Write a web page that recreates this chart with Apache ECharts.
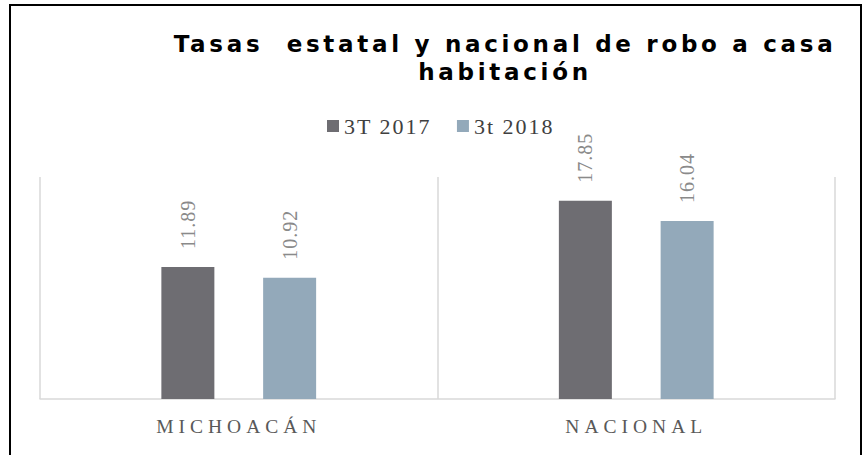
<!DOCTYPE html>
<html>
<head>
<meta charset="utf-8">
<script src="https://cdn.jsdelivr.net/npm/echarts@6/dist/echarts.min.js"></script>
<style>
  html, body { margin: 0; padding: 0; background: #fff; }
  #chart { width: 867px; height: 455px; }
  /* letter spacing like the original slide (svg renderer), picked by font size */
  #chart text { white-space: pre; }
  #chart text[style*="23px"] { letter-spacing: 3.7px; }
  #chart text[style*="19.5px"] { letter-spacing: 5px; }
  #chart text[style*="20px"] { letter-spacing: 1px; }
  #chart text[style*="22px"] { letter-spacing: 2px; }
</style>
</head>
<body>
<div id="chart"></div>
<script>
const categories = ["MICHOACÁN", "NACIONAL"];
const seriesNames = ["3T 2017", "3t 2018"];
const values2017 = [11.89, 17.85];
const values2018 = [10.92, 16.04];

const serifFont = "Liberation Serif, DejaVu Serif, serif";

const chart = echarts.init(document.getElementById("chart"), null, { renderer: "svg" });

const barLabel = {
  show: true,
  position: "top",
  rotate: 90,
  align: "left",
  verticalAlign: "middle",
  distance: 18,
  color: "#8a8a8a",
  fontFamily: serifFont,
  fontSize: 20,
  formatter: (p) => p.value.toFixed(2)
};

chart.setOption({
  animation: false,
  backgroundColor: "#fff",
  graphic: [
    {
      type: "rect",
      shape: { x: 10, y: 5, width: 851, height: 470 },
      style: { fill: "none", stroke: "#000", lineWidth: 2 },
      silent: true
    }
  ],
  title: {
    text: "Tasas  estatal y nacional de robo a casa\nhabitación",
    left: 505,
    top: 30,
    padding: 0,
    textAlign: "center",
    textStyle: {
      fontFamily: "DejaVu Sans",
      fontWeight: "bold",
      fontSize: 23,
      lineHeight: 28,
      color: "#000"
    }
  },
  legend: {
    data: seriesNames,
    top: 115,
    left: 327,
    padding: 0,
    itemWidth: 12,
    itemHeight: 12,
    itemGap: 39,
    icon: "rect",
    textStyle: { fontFamily: serifFont, fontSize: 22, color: "#404040" }
  },
  grid: { left: 40, right: 32, top: 177, bottom: 56 },
  xAxis: {
    type: "category",
    data: categories,
    axisLine: { lineStyle: { color: "#d9d9d9", width: 1.5 } },
    axisTick: { show: false },
    splitLine: { show: true, lineStyle: { color: "#d9d9d9", width: 1.5 } },
    axisLabel: {
      margin: 17,
      color: "#595959",
      fontFamily: serifFont,
      fontSize: 19.5
    }
  },
  yAxis: {
    type: "value",
    min: 0,
    max: 20,
    show: false,
    splitLine: { show: false }
  },
  series: [
    {
      name: seriesNames[0],
      type: "bar",
      data: values2017,
      barWidth: 53,
      barGap: "92%",
      itemStyle: { color: "#6e6d72" },
      label: barLabel
    },
    {
      name: seriesNames[1],
      type: "bar",
      data: values2018,
      barWidth: 53,
      itemStyle: { color: "#93a9ba" },
      label: barLabel
    }
  ]
});
</script>
</body>
</html>
